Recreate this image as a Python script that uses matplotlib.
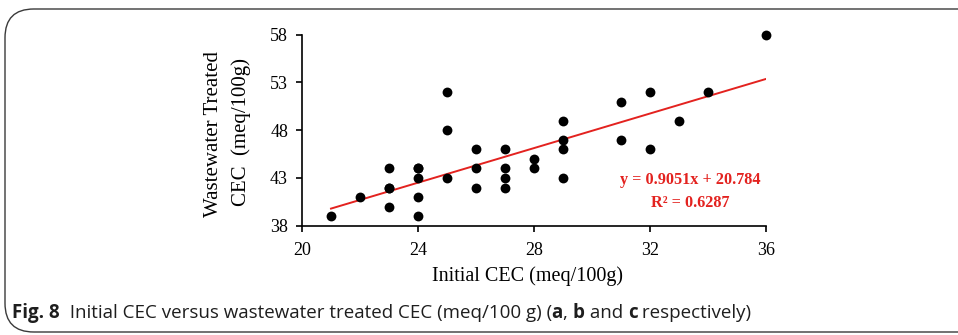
import matplotlib
matplotlib.use("Agg")
import matplotlib.pyplot as plt
from matplotlib.patches import FancyBboxPatch
import numpy as np

# Data
initial_cec = [21, 22, 23, 23, 23, 23, 24, 24, 24, 24, 24, 25, 25, 25,
               26, 26, 26, 27, 27, 27, 27, 28, 28, 29, 29, 29, 29,
               31, 31, 32, 32, 33, 34, 36]
treated_cec = [39, 41, 44, 42, 42, 40, 44, 43, 41, 39, 44, 52, 48, 43,
               46, 44, 42, 46, 44, 43, 42, 45, 44, 49, 47, 46, 43,
               51, 47, 52, 46, 49, 52, 58]
slope = 0.9051
intercept = 20.784
r_squared = 0.6287
x_ticks = [20, 24, 28, 32, 36]
y_ticks = [38, 43, 48, 53, 58]

W, H = 958, 335
fig = plt.figure(figsize=(W / 100, H / 100), dpi=100)

# rounded frame
frame = FancyBboxPatch((5 / W, 3 / H), 1.2, (H - 12) / H,
                       boxstyle="round,pad=0,rounding_size=0.03",
                       transform=fig.transFigure, facecolor="none",
                       edgecolor="#3a3a3a", linewidth=1.0, mutation_aspect=W / H)
fig.patches.append(frame)

ax = fig.add_axes([302 / W, 1 - 225.7 / H, (766 - 302) / W, (225.7 - 34.7) / H])
serif = "Liberation Serif"

ax.scatter(initial_cec, treated_cec, s=50, color="black", zorder=3, linewidths=0,
           clip_on=False)
xl = np.array([min(initial_cec), max(initial_cec)])
ax.plot(xl, slope * xl + intercept, color="#e3221f", linewidth=1.4, zorder=2)

ax.set_xlim(20, 36)
ax.set_ylim(38, 58)
ax.set_xticks(x_ticks)
ax.set_yticks(y_ticks)
ax.set_xticklabels([str(v) for v in x_ticks], family=serif, fontsize=13)
ax.set_yticklabels([str(v) for v in y_ticks], family=serif, fontsize=13)
ax.tick_params(axis="x", direction="out", length=4, width=1.2, pad=8)
ax.tick_params(axis="y", direction="out", length=4, width=1.2, pad=6)
for s in ["top", "right"]:
    ax.spines[s].set_visible(False)
for s in ["left", "bottom"]:
    ax.spines[s].set_linewidth(1.2)

fig.text(214 / W, 1 - 134 / H, "Wastewater Treated", rotation=90, ha="center", va="center",
         family=serif, fontsize=15)
fig.text(241 / W, 1 - 132 / H, "CEC  (meq/100g)", rotation=90, ha="center", va="center",
         family=serif, fontsize=15)
fig.text(528 / W, 1 - 276 / H, "Initial CEC (meq/100g)", ha="center", va="center",
         family=serif, fontsize=14.5)

fig.text(690 / W, 1 - 180 / H, f"y = {slope}x + {intercept}", ha="center", va="center",
         family=serif, fontsize=11.7, fontweight="bold", color="#e3221f")
fig.text(690 / W, 1 - 203 / H, f"R\u00b2 = {r_squared}", ha="center", va="center",
         family=serif, fontsize=11.7, fontweight="bold", color="#e3221f")

# caption, built piecewise
cap_font = "Open Sans"
pieces = [("Fig. 8", "bold"), ("  Initial CEC versus wastewater treated CEC (meq/100 g) (", "normal"),
          ("a", "bold"), (", ", "normal"), ("b", "bold"), (" and ", "normal"),
          ("c", "bold"), (" respectively)", "normal")]
renderer = fig.canvas.get_renderer()
x = 12
for txt, wt in pieces:
    t = fig.text(x / W, 1 - 313 / H, txt, ha="left", va="center", family=cap_font,
                 fontsize=13.5, fontweight=wt, color="#1e1e1e")
    bb = t.get_window_extent(renderer=renderer)
    x += bb.width

fig.savefig("out.png", dpi=100)
